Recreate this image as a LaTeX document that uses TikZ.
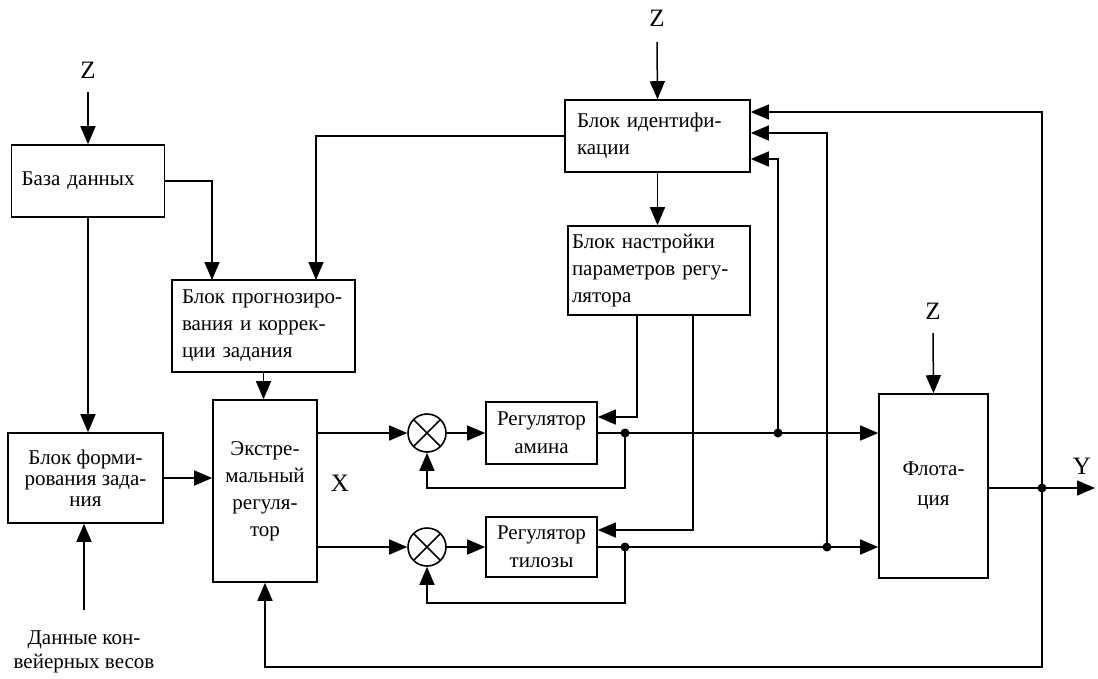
\documentclass[tikz,border=0pt]{standalone}
\usepackage{fontspec}
\setmainfont{Liberation Serif}
\usetikzlibrary{arrows.meta}
\begin{document}
\tikzset{
 blk/.style={draw, line width=1.6pt, inner sep=0pt, font=\fontsize{21}{27}\selectfont},
 arr/.style={line width=1.5pt, -{Triangle[length=18pt,width=15pt]}},
 jdot/.style={circle, fill, inner sep=0pt, minimum size=9pt},
 summ/.style={circle, draw, line width=1.6pt, minimum size=38pt, inner sep=0pt,
   path picture={\draw[line width=1.5pt] (path picture bounding box.south west) -- (path picture bounding box.north east)
     (path picture bounding box.north west) -- (path picture bounding box.south east);}},
 lbl/.style={font=\fontsize{25}{28}\selectfont, inner sep=0pt, align=center},
}
\begin{tikzpicture}[x=1pt,y=-1pt]
\useasboundingbox (0,0) rectangle (1098,678);
% blocks
\node[blk, minimum width=153pt, minimum height=72pt, text width=133pt, align=left] (db) at (88,181) {База данных};
\node[blk, minimum width=185pt, minimum height=72pt, text width=161pt, align=left] (ident) at (657.5,136) {Блок идентифи-\\кации};
\node[blk, minimum width=182pt, minimum height=89pt, text width=174pt, align=left] (tune) at (659,270.5) {Блок настройки\\параметров регу-\\лятора};
\node[blk, minimum width=183pt, minimum height=92pt, text width=163pt, align=left] (prog) at (263.5,326) {Блок прогнозиро-\\вания и коррек-\\ции задания};
\node[blk, minimum width=104pt, minimum height=182pt, align=center] (ext) at (265,491) {Экстре-\\мальный\\регуля-\\тор};
\node[blk, minimum width=155pt, minimum height=90pt, align=center, font=\fontsize{21}{21}\selectfont] (form) at (85.5,478) {Блок форми-\\рования зада-\\ния};
\node[blk, minimum width=111pt, minimum height=62pt, align=center, font=\fontsize{21}{28}\selectfont] (amine) at (541.5,433) {Регулятор\\амина};
\node[blk, minimum width=111pt, minimum height=60pt, align=center, font=\fontsize{21}{28}\selectfont] (tiloz) at (541.5,547) {Регулятор\\тилозы};
\node[blk, minimum width=109pt, minimum height=184pt, align=center, font=\fontsize{21}{30}\selectfont] (flot) at (933.5,486) {Флота-\\ция};
% summators
\node[summ] (s1) at (427,433) {};
\node[summ] (s2) at (427,547) {};
% labels
\node[lbl] (z1) at (88,70) {Z};
\node[lbl] (z2) at (657,18) {Z};
\node[lbl] (z3) at (933,311) {Z};
\node[lbl] (xl) at (340,483) {X};
\node[lbl] (yl) at (1082,466) {Y};
\node[lbl, font=\fontsize{21}{24}\selectfont] (data) at (84,652) {Данные кон-\\вейерных весов};
% junction dots
\node[jdot] (d1) at (625,433) {};
\node[jdot] (d2) at (778,433) {};
\node[jdot] (d3) at (625,547) {};
\node[jdot] (d4) at (827,547) {};
\node[jdot] (d5) at (1042,488) {};
% helper coordinates
\coordinate (z1s) at (88,92);
\coordinate (z2s) at (657,42);
\coordinate (z3s) at (933,333);
\coordinate (dataN) at (84,610);
\coordinate (p1) at (212,280);
\coordinate (p2) at (316,280);
\coordinate (t1) at (637,315);
\coordinate (t2) at (693,315);
\coordinate (fb1) at (625,488);
\coordinate (fb2) at (625,603);
\coordinate (fb3) at (1042,667);
\coordinate (yout) at (1095,488);
% connectors
\draw[arr] (z1s) -- (db.north);
\draw[arr] (z2s) -- (ident.north);
\draw[arr] (z3s) -- (flot.north);
\draw[arr] (db.east) -| (p1);
\draw[arr] (db.south) -- (db.south |- form.north);
\draw[arr] (dataN) -- (dataN |- form.south);
\draw[arr] (form.east) -- (form.east -| ext.west);
\draw[arr] (prog.south) -- (prog.south |- ext.north);
\draw[arr] (ident.west) -| (p2);
\draw[arr] (ident.south) -- (ident.south |- tune.north);
\draw[arr] (ext.east |- s1) -- (s1.west);
\draw[arr] (ext.east |- s2) -- (s2.west);
\draw[arr] (s1.east) -- (amine.west);
\draw[arr] (s2.east) -- (tiloz.west);
\draw[arr] (amine.east) -- (amine.east -| flot.west);
\draw[arr] (tiloz.east) -- (tiloz.east -| flot.west);
\draw[arr] (d1.center) -- (fb1) -| (s1.south);
\draw[arr] (d3.center) -- (fb2) -| (s2.south);
\draw[arr] (t1) |- ([yshift=16pt]amine.east);
\draw[arr] (t2) |- ([yshift=17pt]tiloz.east);
\draw[arr] (d2.center) |- ([yshift=-23pt]ident.east);
\draw[arr] (d4.center) |- ([yshift=3pt]ident.east);
\draw[arr] (d5.center) |- ([yshift=24pt]ident.east);
\draw[arr] (d5 -| flot.east) -- (yout);
\draw[arr] (d5.center) -- (fb3) -| (ext.south);
\end{tikzpicture}
\end{document}
